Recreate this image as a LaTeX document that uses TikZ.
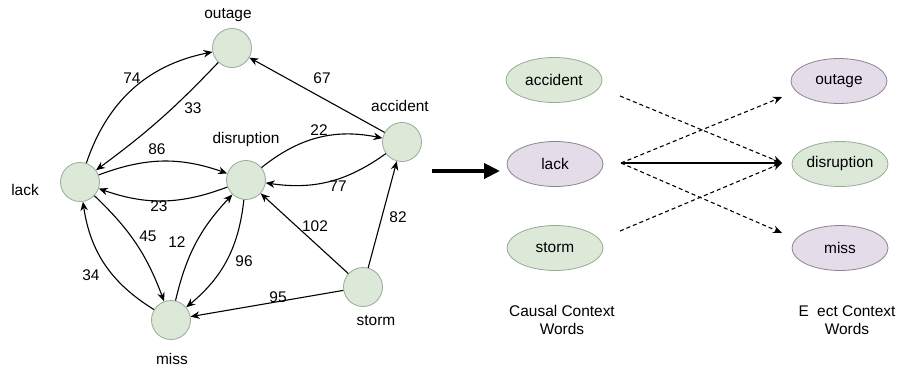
\documentclass[tikz,border=0pt]{standalone}
\usepackage{fontspec}
\setmainfont{Liberation Sans}
\usetikzlibrary{arrows.meta,shapes.geometric}
\definecolor{gfill}{HTML}{DCE9D9}
\definecolor{gdraw}{HTML}{98AA96}
\definecolor{pfill}{HTML}{E5DCEA}
\definecolor{pdraw}{HTML}{8C8492}
\begin{document}
\begin{tikzpicture}[x=1bp,y=1bp,
  font=\fontsize{15.5}{18}\selectfont,
  word/.style={circle,minimum size=39bp,inner sep=0pt,fill=gfill,draw=gdraw,line width=0.8bp},
  cause/.style={ellipse,minimum width=96bp,minimum height=45bp,inner sep=0pt,draw=gdraw,line width=0.8bp,fill=gfill},
  effect/.style={ellipse,minimum width=96bp,minimum height=45bp,inner sep=0pt,draw=pdraw,line width=0.8bp,fill=pfill},
  lbl/.style={inner sep=1pt},
  link/.style={line width=1.1bp,-{Stealth[length=9bp,width=7.5bp]}},
  dlink/.style={line width=1.1bp,dash pattern=on 4bp off 3bp,-{Stealth[length=9bp,width=7.5bp]}},
  slink/.style={line width=1.3bp,-{Stealth[length=9bp,width=7.5bp]}}]
\useasboundingbox (0,0) rectangle (898,-371);

% ---- word graph ----
\node[word] (outage) at (232,-48) {};
\node[word] (lack) at (80,-182) {};
\node[word] (disruption) at (246,-180) {};
\node[word] (accident) at (402,-142) {};
\node[word] (miss) at (171,-320) {};
\node[word] (storm) at (363,-287) {};

\node[lbl] (t-outage) at (228,-15) {outage};
\node[lbl] (t-lack) at (25,-190) {lack};
\node[lbl] (t-disruption) at (246,-140) {disruption};
\node[lbl] (t-accident) at (400,-106) {accident};
\node[lbl] (t-miss) at (172,-359) {miss};
\node[lbl] (t-storm) at (376,-321) {storm};

\draw[link] (lack) to[bend left=30] (outage);
\draw[link] (outage) to[bend left=5] (lack);
\draw[link] (lack) to[bend left=20] (disruption);
\draw[link] (disruption) to[bend left=20] (lack);
\draw[link] (disruption) to[bend left=25] (accident);
\draw[link] (accident) to[bend left=22] (disruption);
\draw[link] (accident) -- (outage);
\draw[link] (storm) -- (disruption);
\draw[link] (storm) -- (accident);
\draw[link] (storm) -- (miss);
\draw[link] (lack) to[bend left=13] (miss);
\draw[link] (miss) to[bend left=25] (lack);
\draw[link] (miss) to[bend left=15] (disruption);
\draw[link] (disruption) to[bend left=22] (miss);

\node[lbl] (w74) at (132,-78) {74};
\node[lbl] (w33) at (193,-108) {33};
\node[lbl] (w67) at (322,-78) {67};
\node[lbl] (w22) at (319,-130) {22};
\node[lbl] (w86) at (157,-149) {86};
\node[lbl] (w77) at (338,-186) {77};
\node[lbl] (w23) at (159,-206) {23};
\node[lbl] (w102) at (315,-226) {102};
\node[lbl] (w82) at (398,-217) {82};
\node[lbl] (w45) at (148,-236) {45};
\node[lbl] (w12) at (177,-242) {12};
\node[lbl] (w96) at (244,-261) {96};
\node[lbl] (w34) at (91,-275) {34};
\node[lbl] (w95) at (278,-297) {95};

% ---- transition arrow ----
\coordinate (go-from) at (432,-171);
\coordinate (go-to) at (500,-171);
\draw[line width=4bp,-{Triangle[length=16bp,width=15bp]}] (go-from) -- (go-to);

% ---- causal and effect context words ----
\node[cause] (c-accident) at (554,-80) {accident};
\node[effect] (c-lack) at (555,-164) {lack};
\node[cause] (c-storm) at (555,-248) {storm};
\node[effect] (e-outage) at (839,-81) {outage};
\node[cause] (e-disruption) at (840,-164) {disruption};
\node[effect] (e-miss) at (840,-248) {miss};

\coordinate (a-out) at (620,-96);
\coordinate (l-out) at (621,-163);
\coordinate (s-out) at (620,-231);
\coordinate (o-in) at (782,-97);
\coordinate (d-in) at (782,-163);
\coordinate (m-in) at (782,-233);

\draw[dlink] (a-out) -- (d-in);
\draw[dlink] (l-out) -- (o-in);
\draw[dlink] (l-out) -- (m-in);
\draw[dlink] (s-out) -- (d-in);
\draw[slink] (l-out) -- (d-in);

\node[align=center] (cap-cause) at (562,-320) {Causal Context\\Words};
\node[align=center] (cap-effect) at (847,-320) {E\hphantom{ff}ect Context\\Words};
\end{tikzpicture}
\end{document}
